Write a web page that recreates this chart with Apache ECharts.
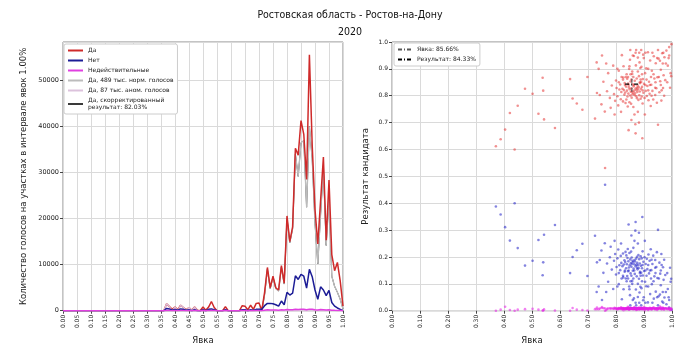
<!DOCTYPE html>
<html><head><meta charset="utf-8">
<script src="https://cdn.jsdelivr.net/npm/echarts@6/dist/echarts.min.js"></script>
<style>html,body{margin:0;background:#fff}#c{width:700px;height:350px}</style>
</head><body><div id="c"></div>
<script>
const titleText = 'Ростовская область - Ростов-на-Дону\n2020';
const leftYName = 'Количество голосов на участках в интервале явок 1.00%';
const rightYName = 'Результат кандидата';
const xName = 'Явка';

// histogram by turnout bin 0.00 .. 1.00 (step 0.01)
const yesVotes = [0,0,0,0,0,0,0,0,0,0, 0,0,0,0,0,0,0,0,0,0, 0,0,0,0,0,0,0,0,0,0, 0,0,0,0,0,0,0,
  1500,900,300,800,200,1200,700,200,700,100,800,100,0,800,
  100,800,2000,700,0,0,0,900,0,0,
  0,0,0,1100,1000,200,1200,300,1600,1700,
  100,4000,9400,5000,7500,5000,4500,9800,6000,20600,
  15000,18200,35300,33800,41300,38300,28500,55600,36000,22000,
  14500,24000,33400,15300,28400,12200,8700,10500,6500,1000];
const noVotes = [0,0,0,0,0,0,0,0,0,0, 0,0,0,0,0,0,0,0,0,0, 0,0,0,0,0,0,0,0,0,0, 0,0,0,0,0,0,0,
  500,400,100,300,100,400,300,100,200,0,200,0,0,200,
  0,300,400,200,0,0,0,200,0,0,
  0,0,0,200,200,0,200,100,300,300,
  300,1100,1600,1600,1500,1300,1000,2100,1300,4000,
  3400,3800,7600,6800,7900,7500,4900,9000,7400,4500,
  2500,5200,4500,3300,4400,1800,1000,600,300,0];
const invalidVotes = [0,0,0,0,0,0,0,0,0,0, 0,0,0,0,0,0,0,0,0,0, 0,0,0,0,0,0,0,0,0,0, 0,0,0,0,0,0,0,
  60,40,20,40,10,50,30,10,30,0,30,0,0,30,
  0,30,60,30,0,0,0,30,0,0,
  0,0,0,40,40,0,40,10,50,50,
  20,120,200,180,170,150,130,200,150,250,
  220,240,300,280,320,300,230,350,300,220,
  160,250,230,170,220,120,80,60,30,0];
const normalYes = [0,0,0,0,0,0,0,0,0,0, 0,0,0,0,0,0,0,0,0,0, 0,0,0,0,0,0,0,0,0,0, 0,0,0,0,0,0,0,0,0,0,
  0,0,0,0,0,0,0,0,0,0, 0,0,0,0,0,0,0,0,0,0, 0,0,0,0,0,0,0,0,0,0, 0,0,
  3500,9000,4800,7300,4800,4300,9500,5800,20000,
  14800,17800,34000,29200,36500,37000,22500,40000,33000,19000,
  10200,21000,31000,14200,24500,7500,5300,4000,2500,400];
const anomYes = [0,0,0,0,0,0,0,0,0,0, 0,0,0,0,0,0,0,0,0,0, 0,0,0,0,0,0,0,0,0,0, 0,0,0,0,0,0,0,
  1500,900,0,800,0,1200,700,0,700,0,800,0,0,0,
  0,0,0,0,0,0,0,0,0,0, 0,0,0,0,0,0,0,0,0,0, 0,0,0,0,0,0,0,0,0,0,
  0,0,0,0,0,0,0,0,0,0, 0,0,0,0,0,0,0,0,0,0];
const correctedYes = normalYes;
const legendLeft = ['Да','Нет','Недействительные','Да, 489 тыс. норм. голосов','Да, 87 тыс. аном. голосов','Да, скорректированный\nрезультат: 82.03%'];

// precinct scatter: turnout, share "yes", share "no", share invalid
const turnoutPts = [.742,.748,.755,.760,.768,.772,.778,.781,.785,.790,.793,.797,.800,.802,.805,.808,.810,.812,.815,.817,
 .819,.821,.823,.825,.826,.828,.830,.831,.833,.834,.836,.837,.839,.840,.841,.843,.844,.845,.846,.848,
 .849,.850,.851,.852,.853,.855,.856,.857,.858,.859,.860,.861,.862,.863,.864,.865,.866,.867,.868,.869,
 .870,.871,.872,.873,.874,.875,.876,.877,.878,.879,.880,.881,.882,.883,.884,.885,.886,.887,.888,.889,
 .890,.891,.892,.893,.894,.895,.896,.897,.898,.900,.902,.904,.906,.908,.910,.912,.914,.916,.918,.920,
 .922,.924,.926,.928,.930,.933,.935,.937,.940,.942,.944,.946,.948,.950,.952,.955,.958,.960,.962,.965,
 .968,.970,.973,.976,.980,.985,.990,.995,.998,.997,
 .732,.738,.750,.765,.795,.805,.818,.827,.838,.842,.847,.854,.860,.866,.872,.878,.883,.888,.893,.899,
 .903,.909,.915,.921,.927,.934,.941,.947,.953,.957,.963,.967,.972,.978,.983,.988,.993,
 .825,.835,.845,.855,.865,.875,.885,.895,.905,.915,.925,.940,.960,
 .870,.882,.855,.858,.848,.878,.851,.870,.890,.905,.930,.950,.969,.990,
 .810,.820,.832,.843,.852,.862,
 .371,.388,.404,.421,.438,.449,.475,.502,.523,.538,.540,.543,.582,.636,.645,.660,.680,.698,.725,.731,.761];
const yesPts = [.803,.768,.852,.741,.817,.884,.792,.755,.838,.912,.806,.781,.857,.829,.798,.764,.893,.823,.842,.787,
 .814,.951,.826,.779,.868,.821,.804,.847,.812,.773,.834,.786,.819,.863,.797,.845,.808,.672,.831,.776,
 .824,.934,.801,.853,.815,.828,.793,.817,.881,.806,.843,.812,.758,.835,.948,.819,.803,.856,.809,.694,
 .827,.913,.798,.821,.864,.791,.814,.838,.942,.823,.784,.832,.873,.802,.924,.816,.847,.903,.789,.826,
 .851,.908,.797,.833,.642,.771,.862,.953,.811,.844,.792,.884,.818,.902,.799,.836,.962,.783,.852,.807,
 .931,.762,.841,.893,.818,.786,.947,.864,.803,.921,.828,.774,.869,.692,.938,.813,.854,.897,.782,.958,
 .829,.876,.943,.858,.968,.912,.981,.884,.992,.873,
 .81,.90,.95,.92,.73,.90,.74,.91,.88,.76,.90,.77,.95,.73,.97,.74,.96,.86,.88,.94,
 .73,.86,.90,.84,.80,.88,.85,.94,.87,.93,.82,.92,.80,.92,.85,.94,.83,
 .86,.87,.84,.86,.84,.83,.85,.82,.84,.82,.87,.83,.84,
 .66,.70,.71,.89,.91,.89,.97,.96,.97,.96,.96,.97,.96,.95,
 .85,.87,.84,.87,.88,.87,
 .612,.638,.674,.736,.600,.763,.826,.807,.733,.867,.819,.712,.680,.862,.790,.771,.748,.870,.715,.924,.531];
const noPts = [.189,.224,.141,.251,.176,.108,.199,.238,.153,.081,.186,.211,.135,.163,.195,.228,.099,.169,.151,.204,
 .178,.043,.166,.213,.124,.172,.188,.145,.181,.219,.158,.206,.173,.129,.196,.147,.184,.321,.161,.215,
 .169,.058,.191,.139,.177,.164,.198,.175,.111,.186,.149,.181,.234,.157,.046,.173,.189,.137,.183,.298,
 .166,.079,.194,.171,.128,.201,.178,.154,.051,.169,.207,.159,.119,.192,.068,.176,.145,.089,.203,.167,
 .141,.084,.195,.158,.349,.221,.131,.039,.182,.148,.199,.108,.174,.091,.193,.155,.031,.209,.139,.186,
 .062,.229,.151,.099,.174,.205,.045,.128,.189,.071,.163,.218,.122,.301,.054,.179,.138,.095,.211,.034,
 .162,.115,.049,.133,.024,.081,.012,.108,.004,.119,
 .18,.09,.04,.07,.26,.09,.25,.08,.11,.23,.09,.22,.04,.26,.02,.25,.03,.13,.11,.05,
 .26,.13,.09,.15,.19,.11,.14,.05,.12,.06,.17,.07,.19,.07,.14,.05,.16,
 .13,.12,.15,.13,.15,.16,.14,.17,.15,.17,.12,.16,.15,
 .33,.29,.28,.10,.08,.10,.02,.03,.02,.03,.03,.02,.03,.04,
 .14,.12,.15,.12,.11,.12,
 .388,.358,.311,.261,.400,.233,.168,.186,.263,.132,.180,.283,.319,.140,.200,.225,.249,.129,.279,.070,.469];
const invalidPts = [.008,.010,.009,.009,.007,.008,.009,.007,.009,.007,.008,.008,.008,.008,.007,.008,.008,.008,.007,.009,
 .008,.006,.008,.008,.008,.007,.008,.008,.007,.008,.008,.008,.008,.008,.007,.008,.008,.007,.008,.009,
 .007,.008,.008,.008,.008,.008,.009,.008,.008,.008,.008,.007,.008,.008,.006,.008,.008,.007,.008,.008,
 .007,.008,.008,.008,.008,.008,.008,.008,.007,.008,.009,.009,.008,.006,.008,.008,.008,.008,.008,.007,
 .008,.008,.008,.009,.009,.008,.007,.008,.007,.008,.009,.008,.008,.007,.008,.009,.007,.008,.009,.007,
 .007,.009,.008,.008,.008,.009,.008,.008,.008,.008,.009,.008,.009,.007,.008,.008,.008,.008,.007,.008,
 .009,.009,.008,.009,.008,.007,.007,.008,.004,.008,
 .012,.006,.014,.003,.011,.005,.013,.002,.009,.015,.004,.011,.006,.013,.003,.010,.005,.012,.007,.014,
 .002,.009,.006,.011,.004,.013,.008,.003,.010,.016,.005,.012,.004,.009,.006,.011,.003,
 .010,.005,.013,.007,.012,.004,.009,.006,.011,.003,.008,.005,.012,
 .010,.012,.009,.008,.006,.007,.008,.009,.006,.007,.009,.008,.007,.006,
 .010,.009,.008,.006,.007,.009,
 .000,.004,.015,.003,.000,.004,.006,.007,.004,.001,.001,.005,.001,.000,.010,.004,.003,.001,.006,.006,.000];
const meanTurnout = 0.8566;
const meanResult = 0.8433;
const crossHalfX = 0.024;
const crossHalfY = 0.028;

const FONT = 'DejaVu Sans';
const bins = yesVotes.map((_, i) => +(i / 100).toFixed(2));
const pair = arr => arr.map((v, i) => [bins[i], v]);
const nPts = Math.min(turnoutPts.length, yesPts.length, noPts.length, invalidPts.length);
const pts = arr => { const o = []; for (let i = 0; i < nPts; i++) o.push([turnoutPts[i], arr[i]]); return o; };
const yMax = Math.max(...yesVotes) * 1.05;
const turnoutLabel = 'Явка: ' + (meanTurnout * 100).toFixed(2) + '%';
const resultLabel = 'Результат: ' + (meanResult * 100).toFixed(2) + '%';

const tickStyle = { show: true, length: 3, lineStyle: { color: '#444' } };
const gridLine = { show: true, lineStyle: { color: '#dadada', width: 1 } };
const nameStyle = { fontFamily: FONT, fontSize: 8.5, color: '#222' };
const legendBase = { orient: 'vertical', itemWidth: 15, itemHeight: 6, itemGap: 3,
  padding: [3, 4, 3, 3], backgroundColor: '#fff', borderColor: '#ccc', borderWidth: 1, borderRadius: 2,
  itemStyle: { opacity: 0 },
  textStyle: { fontFamily: FONT, fontSize: 6, color: '#222', lineHeight: 7 } };

const chart = echarts.init(document.getElementById('c'));
chart.setOption({
  animation: false,
  backgroundColor: '#fff',
  title: { text: titleText, left: 'center', top: 2,
    textStyle: { fontFamily: "'DejaVu Sans Condensed', 'DejaVu Sans'", fontSize: 10.5, fontWeight: 'normal', color: '#111', lineHeight: 17 } },
  grid: [
    { left: 63, top: 42, width: 280, height: 280, show: true, borderColor: '#888', borderWidth: 1 },
    { left: 392, top: 42, width: 280, height: 280, show: true, borderColor: '#888', borderWidth: 1 }
  ],
  xAxis: [
    { gridIndex: 0, type: 'value', min: 0, max: 1, interval: 0.05, name: xName, nameLocation: 'middle', nameGap: 23,
      nameTextStyle: nameStyle, axisLine: { show: false }, axisTick: tickStyle, splitLine: gridLine,
      axisLabel: { rotate: 90, fontFamily: FONT, fontSize: 6, margin: 4, color: '#222', formatter: v => v.toFixed(2) } },
    { gridIndex: 1, type: 'value', min: 0, max: 1, interval: 0.1, name: xName, nameLocation: 'middle', nameGap: 23,
      nameTextStyle: nameStyle, axisLine: { show: false }, axisTick: tickStyle, splitLine: gridLine,
      axisLabel: { rotate: 90, fontFamily: FONT, fontSize: 6, margin: 4, color: '#222', formatter: v => v.toFixed(2) } }
  ],
  yAxis: [
    { gridIndex: 0, type: 'value', min: 0, max: yMax, interval: 10000, name: leftYName, nameLocation: 'middle', nameGap: 35,
      nameTextStyle: nameStyle, axisLine: { show: false }, axisTick: tickStyle, splitLine: gridLine,
      axisLabel: { fontFamily: FONT, fontSize: 6.5, margin: 4, color: '#222', showMaxLabel: false, formatter: v => String(Math.round(v)) } },
    { gridIndex: 1, type: 'value', min: 0, max: 1, interval: 0.1, name: rightYName, nameLocation: 'middle', nameGap: 22,
      nameTextStyle: nameStyle, axisLine: { show: false }, axisTick: tickStyle, splitLine: gridLine,
      axisLabel: { fontFamily: FONT, fontSize: 6, margin: 4, color: '#222', formatter: v => v.toFixed(1) } }
  ],
  legend: [
    Object.assign({ data: legendLeft, left: 64, top: 44 }, legendBase),
    Object.assign({ data: [turnoutLabel, resultLabel], left: 394, top: 43 }, legendBase, { itemWidth: 14 })
  ],
  series: [
    { name: legendLeft[5], type: 'line', xAxisIndex: 0, yAxisIndex: 0, data: pair(correctedYes), symbol: 'none', z: 1,
      color: '#3a3a3a', lineStyle: { width: 1, color: '#3a3a3a' } },
    { name: legendLeft[3], type: 'line', xAxisIndex: 0, yAxisIndex: 0, data: pair(normalYes), symbol: 'none', z: 2,
      color: '#bcbcbc', lineStyle: { width: 1.3, color: '#bcbcbc' } },
    { name: legendLeft[0], type: 'line', xAxisIndex: 0, yAxisIndex: 0, data: pair(yesVotes), symbol: 'none', z: 3,
      color: '#cf2a2a', lineStyle: { width: 1.5, color: '#cf2a2a' } },
    { name: legendLeft[4], type: 'line', xAxisIndex: 0, yAxisIndex: 0, data: pair(anomYes), symbol: 'none', z: 4,
      color: '#dcc2dc', lineStyle: { width: 1.3, color: '#dcc2dc' } },
    { name: legendLeft[1], type: 'line', xAxisIndex: 0, yAxisIndex: 0, data: pair(noVotes), symbol: 'none', z: 5,
      color: '#1c1c96', lineStyle: { width: 1.5, color: '#1c1c96' } },
    { name: legendLeft[2], type: 'line', xAxisIndex: 0, yAxisIndex: 0, data: pair(invalidVotes), symbol: 'none', z: 6,
      color: '#e040e0', lineStyle: { width: 1.5, color: '#e040e0' } },

    { name: 'yesPts', type: 'scatter', xAxisIndex: 1, yAxisIndex: 1, data: pts(yesPts), symbolSize: 2.6, z: 3,
      itemStyle: { color: 'rgba(228,45,45,0.65)' } },
    { name: 'noPts', type: 'scatter', xAxisIndex: 1, yAxisIndex: 1, data: pts(noPts), symbolSize: 2.6, z: 3,
      itemStyle: { color: 'rgba(35,35,200,0.7)' } },
    { name: 'invalidPts', type: 'scatter', xAxisIndex: 1, yAxisIndex: 1, data: pts(invalidPts), symbolSize: 2.6, z: 3,
      itemStyle: { color: 'rgba(230,30,230,0.7)' } },
    { name: turnoutLabel, type: 'line', xAxisIndex: 1, yAxisIndex: 1, symbol: 'none', z: 10,
      data: [[meanTurnout, meanResult - crossHalfY], [meanTurnout, meanResult + crossHalfY]],
      color: '#555', lineStyle: { width: 1.2, color: '#555', type: [4, 2, 1, 2] } },
    { name: resultLabel, type: 'line', xAxisIndex: 1, yAxisIndex: 1, symbol: 'none', z: 10,
      data: [[meanTurnout - crossHalfX, meanResult], [meanTurnout + crossHalfX, meanResult]],
      color: '#000', lineStyle: { width: 1.2, color: '#000', type: [4, 2, 1, 2] } }
  ]
});
</script>
</body></html>
